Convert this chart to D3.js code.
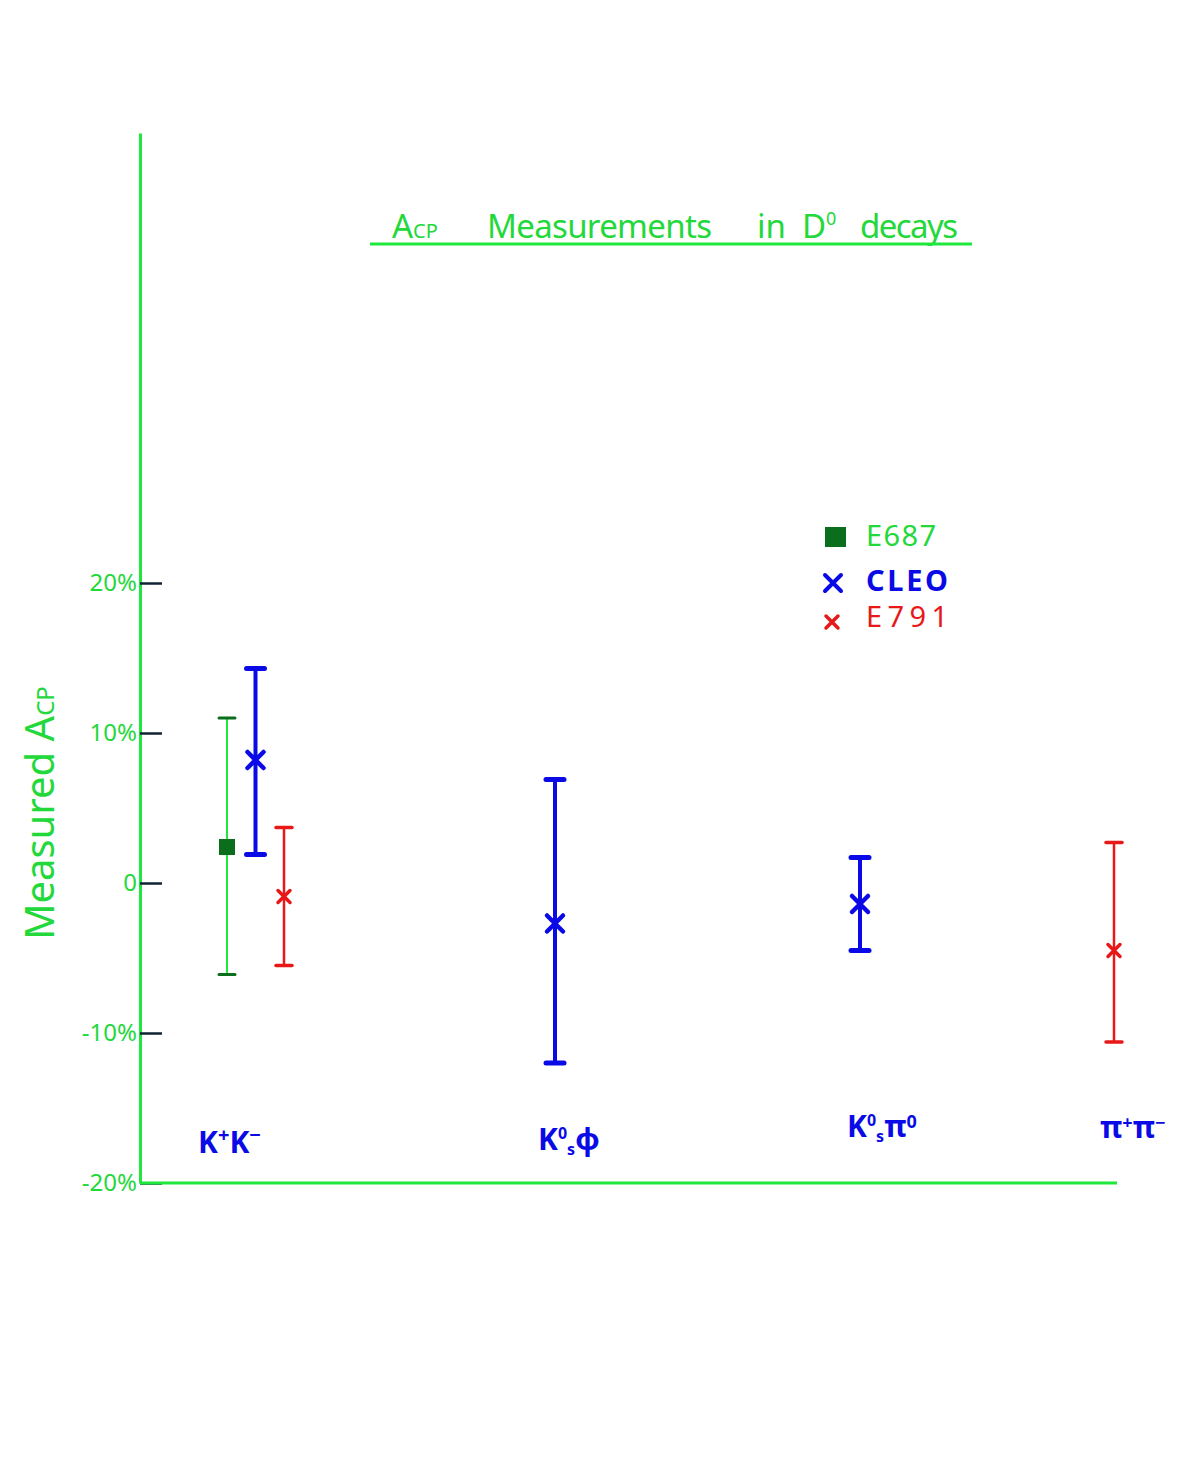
<!DOCTYPE html>
<html><head><meta charset="utf-8">
<script src="https://cdn.jsdelivr.net/npm/d3@7"></script>
<style>
body{margin:0;background:#fff;}
svg{display:block;font-family:"Noto Sans",sans-serif;}
</style></head>
<body><svg id="c" width="1200" height="1483"></svg>
<script>
// ---- data ----
const categories = ["K+K-", "KSphi", "KSpi0", "pi+pi-"];
const series = ["E687", "CLEO", "E791"];
// measured ACP (%) : [category, value, lowerEnd, upperEnd]
const e687 = [["K+K-", 2.4, -6.1, 11.0]];
const cleo = [["K+K-", 8.2, 1.9, 14.3], ["KSphi", -2.7, -12.0, 6.9], ["KSpi0", -1.4, -4.5, 1.7]];
const e791 = [["K+K-", -0.9, -5.5, 3.7], ["pi+pi-", -4.5, -10.6, 2.7]];
const yTicks = [-20, -10, 0, 10, 20];
const yTickLabels = ["-20%", "-10%", "0", "10%", "20%"];

const GREEN = "#1fe83c", TXTG = "#22d83a", DKG = "#0b6e1c", BLUE = "#0a0ae6", RED = "#e81818";

const svg = d3.select("#c");
const y = d3.scaleLinear().domain([-20, 50]).range([1183, 133]);
// hand-spaced category positions (piecewise scale over category index)
const xi = d3.scaleLinear().domain([0, 1, 2, 3]).range([256, 555, 860, 1114]);
const x = c => xi(categories.indexOf(c));
const offset = d3.scalePoint().domain(series).range([-29, 28]);

// y axis
const yAxis = d3.axisLeft(y).tickValues(yTicks)
  .tickFormat((d, i) => yTickLabels[i])
  .tickSizeInner(-22).tickSizeOuter(0).tickPadding(3);
const ga = svg.append("g").attr("transform", "translate(140,0)").call(yAxis);
ga.select(".domain").attr("stroke", GREEN).attr("stroke-width", 3);
ga.selectAll(".tick line").attr("stroke", "#123").attr("stroke-width", 2.5);
ga.selectAll(".tick text").attr("fill", TXTG).attr("font-size", 24).attr("font-family", "Noto Sans");

// x axis line
svg.append("line").attr("x1", 140).attr("x2", 1117).attr("y1", y(-20)).attr("y2", y(-20))
  .attr("stroke", GREEN).attr("stroke-width", 3);

// title
const tg = svg.append("g").attr("fill", TXTG).attr("font-size", 33);
const t1 = tg.append("text").attr("x", 392).attr("y", 238);
t1.append("tspan").text("A");
t1.append("tspan").attr("font-size", 20).text("CP");
tg.append("text").attr("x", 487).attr("y", 238).attr("textLength", 225).text("Measurements");
const t3 = tg.append("text").attr("x", 757).attr("y", 238);
t3.append("tspan").text("in");
t3.append("tspan").attr("dx", 16).text("D");
t3.append("tspan").attr("font-size", 18).attr("dy", -13).text("0");
tg.append("text").attr("x", 860).attr("y", 238).attr("textLength", 98).text("decays");
svg.append("line").attr("x1", 370).attr("x2", 972).attr("y1", 244).attr("y2", 244)
  .attr("stroke", GREEN).attr("stroke-width", 3);

// y label
const yl = svg.append("text").attr("transform", "translate(54,813) rotate(-90)")
  .attr("text-anchor", "middle").attr("fill", TXTG).attr("font-size", 40);
yl.append("tspan").text("Measured  A");
yl.append("tspan").attr("font-size", 24).text("CP");

// error bars
function px(d, name) { return x(d[0]) + (d[0] === "K+K-" ? offset(name) : 0); }
function drawBars(data, name, color, capColor, width, capW) {
  const g = svg.append("g");
  data.forEach(d => {
    const cx = px(d, name);
    g.append("line").attr("x1", cx).attr("x2", cx).attr("y1", y(d[2])).attr("y2", y(d[3]))
      .attr("stroke", color).attr("stroke-width", width);
    [d[2], d[3]].forEach(v => g.append("line").attr("x1", cx - capW).attr("x2", cx + capW)
      .attr("y1", y(v)).attr("y2", y(v)).attr("stroke", capColor).attr("stroke-width", width + 1)
      .attr("stroke-linecap", "round"));
  });
}
drawBars(e687, "E687", GREEN, DKG, 2, 8);
drawBars(cleo, "CLEO", BLUE, BLUE, 4, 9);
drawBars(e791, "E791", RED, RED, 2.5, 8);

// markers
e687.forEach(d => {
  const cx = px(d, "E687");
  svg.append("rect").attr("x", cx - 8).attr("y", y(d[1]) - 8).attr("width", 16).attr("height", 16)
    .attr("fill", DKG);
});
function cross(cx, cy, s, color, w) {
  svg.append("path").attr("d", `M${cx - s},${cy - s}L${cx + s},${cy + s}M${cx - s},${cy + s}L${cx + s},${cy - s}`)
    .attr("stroke", color).attr("stroke-width", w).attr("stroke-linecap", "round").attr("fill", "none");
}
cleo.forEach(d => cross(px(d, "CLEO"), y(d[1]), 8, BLUE, 4.5));
e791.forEach(d => cross(px(d, "E791"), y(d[1]), 6, RED, 3.5));

// category labels
const lab = svg.append("g").attr("fill", BLUE).attr("font-weight", "bold");
function catLabel(cx, cy, parts) {
  const t = lab.append("text").attr("x", cx).attr("y", cy).attr("font-size", 30);
  parts.forEach(p => t.append("tspan").attr("dy", p[1]).attr("font-size", p[2] || 30).text(p[0]));
}
catLabel(198, 1153, [["K", 0], ["+", -11, 20], ["K", 11], ["\u2212", -11, 20]]);
catLabel(538, 1150, [["K", 0], ["0", -11, 16], ["s", 16, 16], ["\u03d5", -5]]);
catLabel(847, 1137, [["K", 0], ["0", -11, 16], ["s", 16, 16], ["\u03c0", -5], ["0", -9, 18]]);
catLabel(1100, 1138, [["\u03c0", 0], ["+", -9, 18], ["\u03c0", 9], ["\u2212", -9, 18]]);

// legend
const lg = svg.append("g").attr("font-size", 29);
lg.append("rect").attr("x", 825).attr("y", 527).attr("width", 21).attr("height", 20).attr("fill", DKG);
lg.append("text").attr("x", 866).attr("y", 546).attr("fill", TXTG).attr("textLength", 70).text(series[0]);
cross(833, 583, 8, BLUE, 4);
lg.append("text").attr("x", 866).attr("y", 591).attr("fill", BLUE).attr("font-weight", "bold").attr("textLength", 82).text(series[1]);
cross(832, 622, 6, RED, 3.5);
lg.append("text").attr("x", 866).attr("y", 627).attr("fill", RED).attr("textLength", 82).text(series[2]);
</script></body></html>
